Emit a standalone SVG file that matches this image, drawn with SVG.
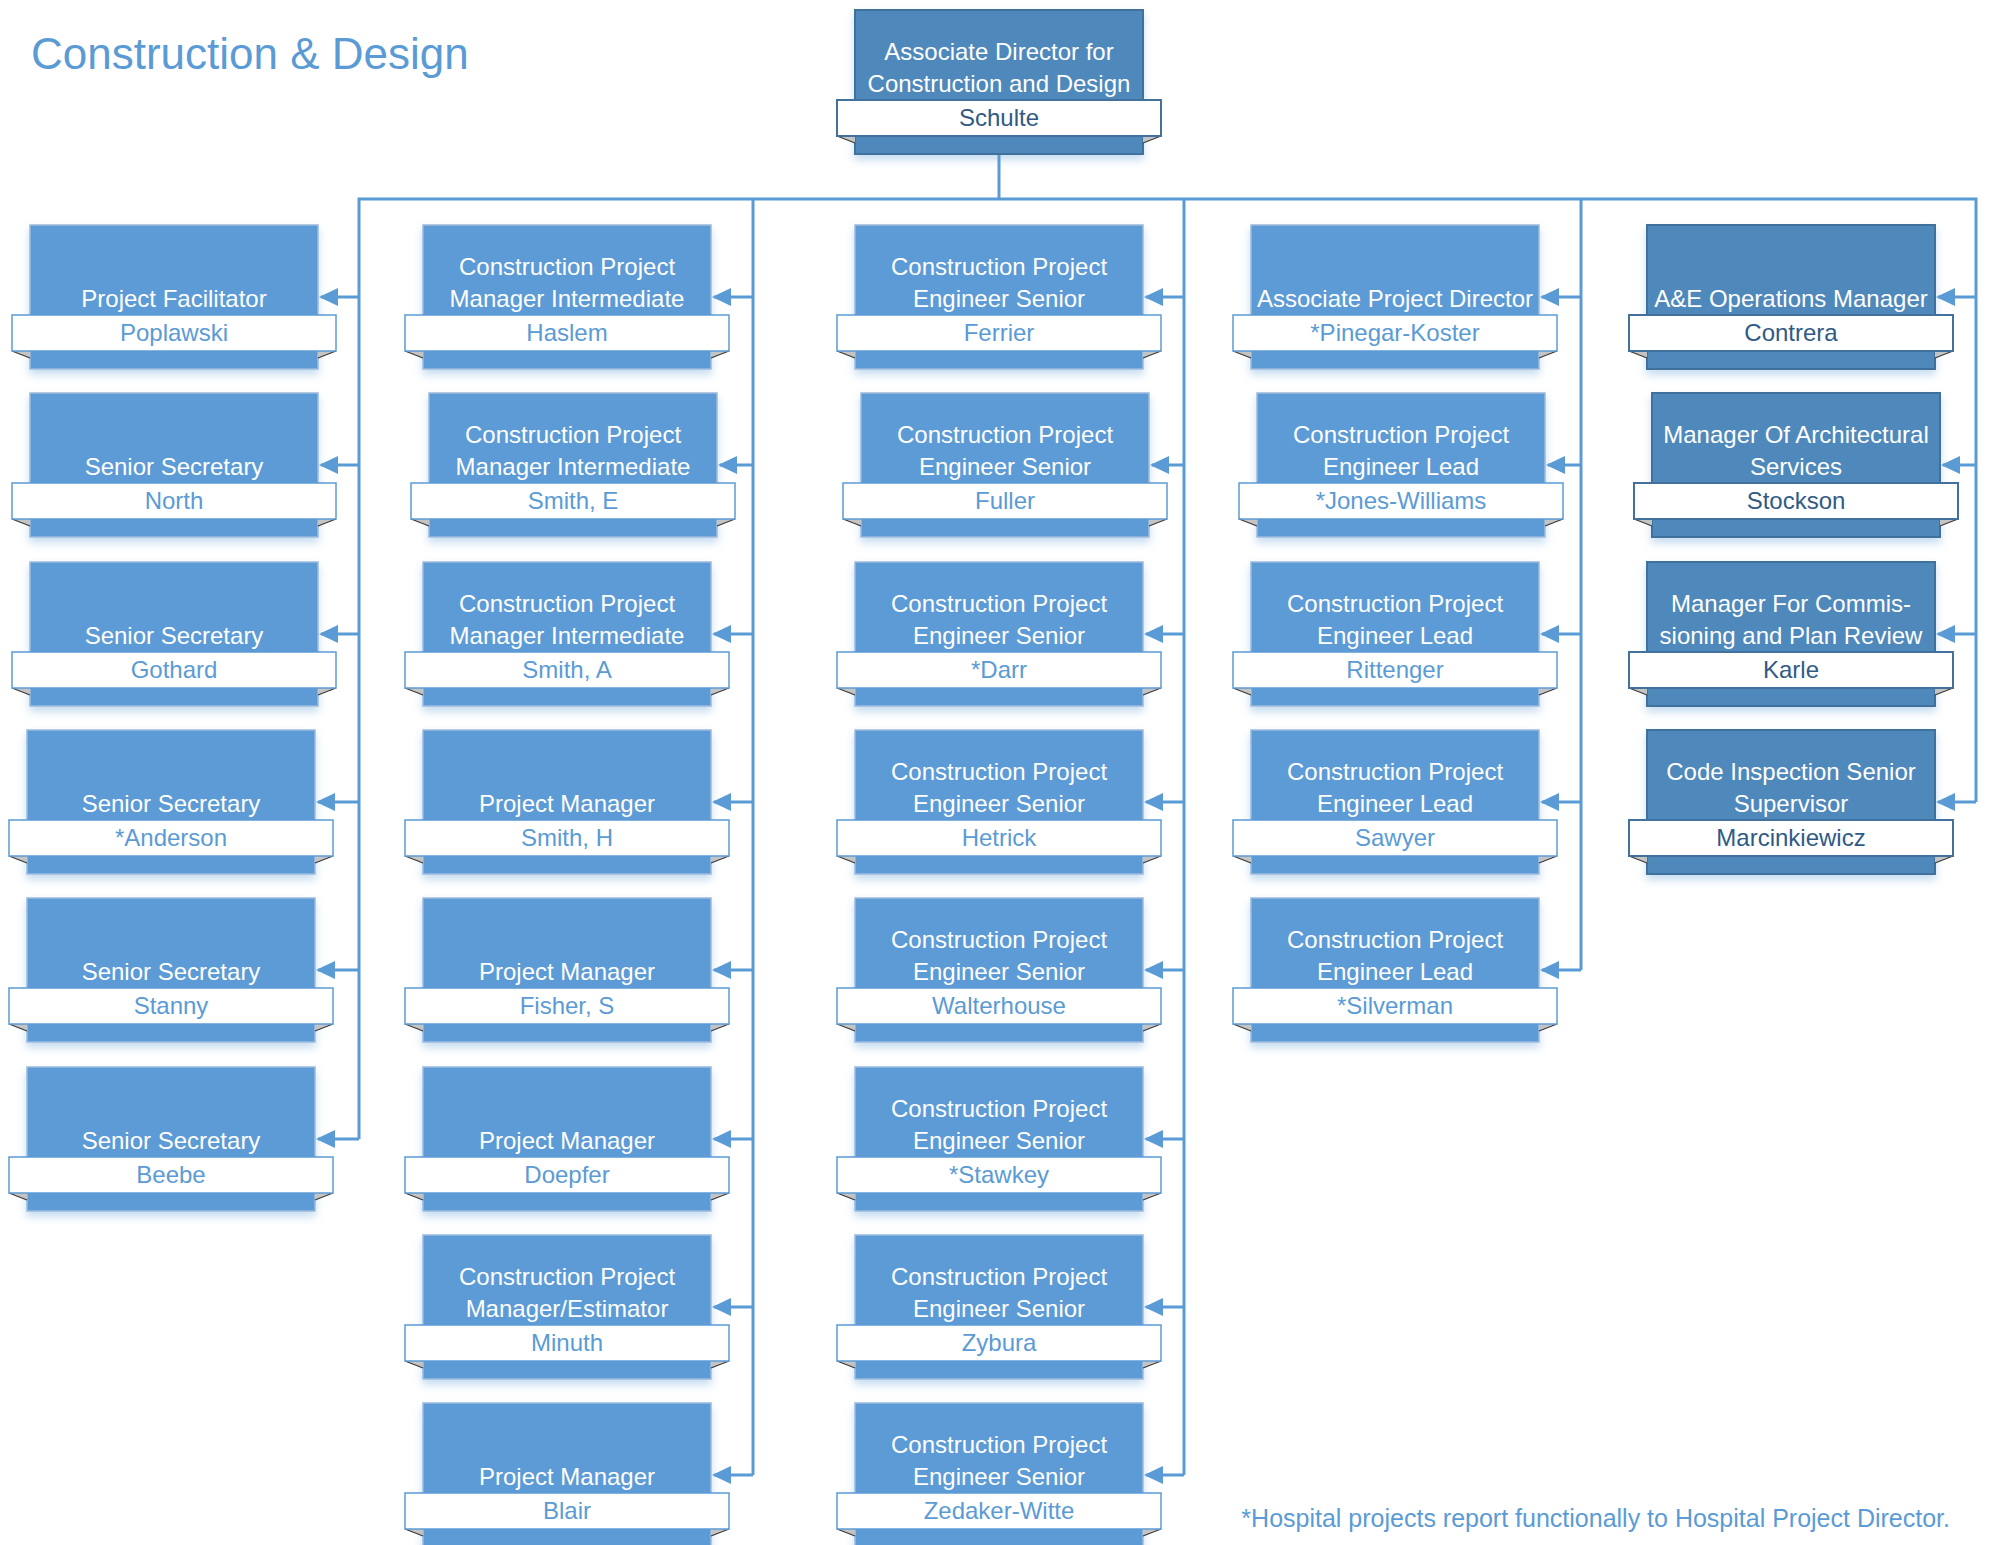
<svg xmlns="http://www.w3.org/2000/svg" width="1990" height="1545" viewBox="0 0 1990 1545">
<defs>
<style>
.box{fill:#5b9bd5;stroke:#9dbbdc;stroke-width:1.5;filter:url(#sh)}
.dk .box{fill:#4f88bb;stroke:#41719c;stroke-width:2}
.strip{fill:#fff;stroke:#5b9bd5;stroke-width:1.5}
.dk .strip{stroke:#41719c;stroke-width:2}
.fold{fill:#c4c4c4}
.fl{fill:none;stroke:#3a3a3a;stroke-width:1.2}
text{font-family:"Liberation Sans",Arial,sans-serif;text-anchor:middle}
.t{fill:#fff;font-size:24px}
.nm{fill:#5b9bd5;font-size:24px}
.dk .nm{fill:#2f5a86}
.con{fill:none;stroke:#5b9bd5;stroke-width:3}
.arr{fill:none;stroke:#5b9bd5;stroke-width:3;marker-end:url(#ah)}
.title{fill:#5b9bd5;font-size:44px;text-anchor:start}
.foot{fill:#5b9bd5;font-size:25px;text-anchor:end}
</style>
<filter id="sh" x="-10%" y="-10%" width="120%" height="130%">
<feDropShadow dx="0" dy="5" stdDeviation="4" flood-color="#5b9bd5" flood-opacity="0.35"/>
</filter>
<marker id="ah" markerUnits="userSpaceOnUse" viewBox="0 -10 20 20" refX="17" refY="0" markerWidth="20" markerHeight="20" orient="auto">
<path d="M0,-9 L19,0 L0,9 Z" fill="#5b9bd5"/>
</marker>
</defs>
<rect width="1990" height="1545" fill="#fff"/>
<text class="title" x="31" y="69">Construction &amp; Design</text>

<g id="connectors">
<path class="con" d="M999,154 V199"/>
<path class="con" d="M359,1139 V199 H1976 V802"/>
<path class="con" d="M753,199 V1475"/>
<path class="con" d="M1184,199 V1475"/>
<path class="con" d="M1581,199 V970"/>
<path class="arr" d="M359,297 H321"/>
<path class="arr" d="M359,465 H321"/>
<path class="arr" d="M359,634 H321"/>
<path class="arr" d="M359,802 H318"/>
<path class="arr" d="M359,970 H318"/>
<path class="arr" d="M359,1139 H318"/>
<path class="arr" d="M753,297 H714"/>
<path class="arr" d="M753,465 H720"/>
<path class="arr" d="M753,634 H714"/>
<path class="arr" d="M753,802 H714"/>
<path class="arr" d="M753,970 H714"/>
<path class="arr" d="M753,1139 H714"/>
<path class="arr" d="M753,1307 H714"/>
<path class="arr" d="M753,1475 H714"/>
<path class="arr" d="M1184,297 H1146"/>
<path class="arr" d="M1184,465 H1152"/>
<path class="arr" d="M1184,634 H1146"/>
<path class="arr" d="M1184,802 H1146"/>
<path class="arr" d="M1184,970 H1146"/>
<path class="arr" d="M1184,1139 H1146"/>
<path class="arr" d="M1184,1307 H1146"/>
<path class="arr" d="M1184,1475 H1146"/>
<path class="arr" d="M1581,297 H1542"/>
<path class="arr" d="M1581,465 H1548"/>
<path class="arr" d="M1581,634 H1542"/>
<path class="arr" d="M1581,802 H1542"/>
<path class="arr" d="M1581,970 H1542"/>
<path class="arr" d="M1976,297 H1938"/>
<path class="arr" d="M1976,465 H1943"/>
<path class="arr" d="M1976,634 H1938"/>
<path class="arr" d="M1976,802 H1938"/>
</g>

<g id="n-schulte" class="dk" transform="translate(855,10)">
<rect class="box" width="288" height="144"/>
<path class="fold" d="M-18,126 H0 V133 Z"/><path class="fl" d="M-18,126 L0,133"/>
<path class="fold" d="M306,126 H288 V133 Z"/><path class="fl" d="M306,126 L288,133"/>
<rect class="strip" x="-18" y="90" width="324" height="36"/>
<text class="t" x="144" y="50">Associate Director for</text>
<text class="t" x="144" y="82">Construction and Design</text>
<text class="nm" x="144" y="116">Schulte</text>
</g>

<!-- Column 1 -->
<g id="n-poplawski" transform="translate(30,225)">
<rect class="box" width="288" height="144"/>
<path class="fold" d="M-18,126 H0 V133 Z"/><path class="fl" d="M-18,126 L0,133"/>
<path class="fold" d="M306,126 H288 V133 Z"/><path class="fl" d="M306,126 L288,133"/>
<rect class="strip" x="-18" y="90" width="324" height="36"/>
<text class="t" x="144" y="82">Project Facilitator</text>
<text class="nm" x="144" y="116">Poplawski</text>
</g>
<g id="n-north" transform="translate(30,393)">
<rect class="box" width="288" height="144"/>
<path class="fold" d="M-18,126 H0 V133 Z"/><path class="fl" d="M-18,126 L0,133"/>
<path class="fold" d="M306,126 H288 V133 Z"/><path class="fl" d="M306,126 L288,133"/>
<rect class="strip" x="-18" y="90" width="324" height="36"/>
<text class="t" x="144" y="82">Senior Secretary</text>
<text class="nm" x="144" y="116">North</text>
</g>
<g id="n-gothard" transform="translate(30,562)">
<rect class="box" width="288" height="144"/>
<path class="fold" d="M-18,126 H0 V133 Z"/><path class="fl" d="M-18,126 L0,133"/>
<path class="fold" d="M306,126 H288 V133 Z"/><path class="fl" d="M306,126 L288,133"/>
<rect class="strip" x="-18" y="90" width="324" height="36"/>
<text class="t" x="144" y="82">Senior Secretary</text>
<text class="nm" x="144" y="116">Gothard</text>
</g>
<g id="n-anderson" transform="translate(27,730)">
<rect class="box" width="288" height="144"/>
<path class="fold" d="M-18,126 H0 V133 Z"/><path class="fl" d="M-18,126 L0,133"/>
<path class="fold" d="M306,126 H288 V133 Z"/><path class="fl" d="M306,126 L288,133"/>
<rect class="strip" x="-18" y="90" width="324" height="36"/>
<text class="t" x="144" y="82">Senior Secretary</text>
<text class="nm" x="144" y="116">*Anderson</text>
</g>
<g id="n-stanny" transform="translate(27,898)">
<rect class="box" width="288" height="144"/>
<path class="fold" d="M-18,126 H0 V133 Z"/><path class="fl" d="M-18,126 L0,133"/>
<path class="fold" d="M306,126 H288 V133 Z"/><path class="fl" d="M306,126 L288,133"/>
<rect class="strip" x="-18" y="90" width="324" height="36"/>
<text class="t" x="144" y="82">Senior Secretary</text>
<text class="nm" x="144" y="116">Stanny</text>
</g>
<g id="n-beebe" transform="translate(27,1067)">
<rect class="box" width="288" height="144"/>
<path class="fold" d="M-18,126 H0 V133 Z"/><path class="fl" d="M-18,126 L0,133"/>
<path class="fold" d="M306,126 H288 V133 Z"/><path class="fl" d="M306,126 L288,133"/>
<rect class="strip" x="-18" y="90" width="324" height="36"/>
<text class="t" x="144" y="82">Senior Secretary</text>
<text class="nm" x="144" y="116">Beebe</text>
</g>

<!-- Column 2 -->
<g id="n-haslem" transform="translate(423,225)">
<rect class="box" width="288" height="144"/>
<path class="fold" d="M-18,126 H0 V133 Z"/><path class="fl" d="M-18,126 L0,133"/>
<path class="fold" d="M306,126 H288 V133 Z"/><path class="fl" d="M306,126 L288,133"/>
<rect class="strip" x="-18" y="90" width="324" height="36"/>
<text class="t" x="144" y="50">Construction Project</text>
<text class="t" x="144" y="82">Manager Intermediate</text>
<text class="nm" x="144" y="116">Haslem</text>
</g>
<g id="n-smith-e" transform="translate(429,393)">
<rect class="box" width="288" height="144"/>
<path class="fold" d="M-18,126 H0 V133 Z"/><path class="fl" d="M-18,126 L0,133"/>
<path class="fold" d="M306,126 H288 V133 Z"/><path class="fl" d="M306,126 L288,133"/>
<rect class="strip" x="-18" y="90" width="324" height="36"/>
<text class="t" x="144" y="50">Construction Project</text>
<text class="t" x="144" y="82">Manager Intermediate</text>
<text class="nm" x="144" y="116">Smith, E</text>
</g>
<g id="n-smith-a" transform="translate(423,562)">
<rect class="box" width="288" height="144"/>
<path class="fold" d="M-18,126 H0 V133 Z"/><path class="fl" d="M-18,126 L0,133"/>
<path class="fold" d="M306,126 H288 V133 Z"/><path class="fl" d="M306,126 L288,133"/>
<rect class="strip" x="-18" y="90" width="324" height="36"/>
<text class="t" x="144" y="50">Construction Project</text>
<text class="t" x="144" y="82">Manager Intermediate</text>
<text class="nm" x="144" y="116">Smith, A</text>
</g>
<g id="n-smith-h" transform="translate(423,730)">
<rect class="box" width="288" height="144"/>
<path class="fold" d="M-18,126 H0 V133 Z"/><path class="fl" d="M-18,126 L0,133"/>
<path class="fold" d="M306,126 H288 V133 Z"/><path class="fl" d="M306,126 L288,133"/>
<rect class="strip" x="-18" y="90" width="324" height="36"/>
<text class="t" x="144" y="82">Project Manager</text>
<text class="nm" x="144" y="116">Smith, H</text>
</g>
<g id="n-fisher" transform="translate(423,898)">
<rect class="box" width="288" height="144"/>
<path class="fold" d="M-18,126 H0 V133 Z"/><path class="fl" d="M-18,126 L0,133"/>
<path class="fold" d="M306,126 H288 V133 Z"/><path class="fl" d="M306,126 L288,133"/>
<rect class="strip" x="-18" y="90" width="324" height="36"/>
<text class="t" x="144" y="82">Project Manager</text>
<text class="nm" x="144" y="116">Fisher, S</text>
</g>
<g id="n-doepfer" transform="translate(423,1067)">
<rect class="box" width="288" height="144"/>
<path class="fold" d="M-18,126 H0 V133 Z"/><path class="fl" d="M-18,126 L0,133"/>
<path class="fold" d="M306,126 H288 V133 Z"/><path class="fl" d="M306,126 L288,133"/>
<rect class="strip" x="-18" y="90" width="324" height="36"/>
<text class="t" x="144" y="82">Project Manager</text>
<text class="nm" x="144" y="116">Doepfer</text>
</g>
<g id="n-minuth" transform="translate(423,1235)">
<rect class="box" width="288" height="144"/>
<path class="fold" d="M-18,126 H0 V133 Z"/><path class="fl" d="M-18,126 L0,133"/>
<path class="fold" d="M306,126 H288 V133 Z"/><path class="fl" d="M306,126 L288,133"/>
<rect class="strip" x="-18" y="90" width="324" height="36"/>
<text class="t" x="144" y="50">Construction Project</text>
<text class="t" x="144" y="82">Manager/Estimator</text>
<text class="nm" x="144" y="116">Minuth</text>
</g>
<g id="n-blair" transform="translate(423,1403)">
<rect class="box" width="288" height="144"/>
<path class="fold" d="M-18,126 H0 V133 Z"/><path class="fl" d="M-18,126 L0,133"/>
<path class="fold" d="M306,126 H288 V133 Z"/><path class="fl" d="M306,126 L288,133"/>
<rect class="strip" x="-18" y="90" width="324" height="36"/>
<text class="t" x="144" y="82">Project Manager</text>
<text class="nm" x="144" y="116">Blair</text>
</g>

<!-- Column 3 -->
<g id="n-ferrier" transform="translate(855,225)">
<rect class="box" width="288" height="144"/>
<path class="fold" d="M-18,126 H0 V133 Z"/><path class="fl" d="M-18,126 L0,133"/>
<path class="fold" d="M306,126 H288 V133 Z"/><path class="fl" d="M306,126 L288,133"/>
<rect class="strip" x="-18" y="90" width="324" height="36"/>
<text class="t" x="144" y="50">Construction Project</text>
<text class="t" x="144" y="82">Engineer Senior</text>
<text class="nm" x="144" y="116">Ferrier</text>
</g>
<g id="n-fuller" transform="translate(861,393)">
<rect class="box" width="288" height="144"/>
<path class="fold" d="M-18,126 H0 V133 Z"/><path class="fl" d="M-18,126 L0,133"/>
<path class="fold" d="M306,126 H288 V133 Z"/><path class="fl" d="M306,126 L288,133"/>
<rect class="strip" x="-18" y="90" width="324" height="36"/>
<text class="t" x="144" y="50">Construction Project</text>
<text class="t" x="144" y="82">Engineer Senior</text>
<text class="nm" x="144" y="116">Fuller</text>
</g>
<g id="n-darr" transform="translate(855,562)">
<rect class="box" width="288" height="144"/>
<path class="fold" d="M-18,126 H0 V133 Z"/><path class="fl" d="M-18,126 L0,133"/>
<path class="fold" d="M306,126 H288 V133 Z"/><path class="fl" d="M306,126 L288,133"/>
<rect class="strip" x="-18" y="90" width="324" height="36"/>
<text class="t" x="144" y="50">Construction Project</text>
<text class="t" x="144" y="82">Engineer Senior</text>
<text class="nm" x="144" y="116">*Darr</text>
</g>
<g id="n-hetrick" transform="translate(855,730)">
<rect class="box" width="288" height="144"/>
<path class="fold" d="M-18,126 H0 V133 Z"/><path class="fl" d="M-18,126 L0,133"/>
<path class="fold" d="M306,126 H288 V133 Z"/><path class="fl" d="M306,126 L288,133"/>
<rect class="strip" x="-18" y="90" width="324" height="36"/>
<text class="t" x="144" y="50">Construction Project</text>
<text class="t" x="144" y="82">Engineer Senior</text>
<text class="nm" x="144" y="116">Hetrick</text>
</g>
<g id="n-walterhouse" transform="translate(855,898)">
<rect class="box" width="288" height="144"/>
<path class="fold" d="M-18,126 H0 V133 Z"/><path class="fl" d="M-18,126 L0,133"/>
<path class="fold" d="M306,126 H288 V133 Z"/><path class="fl" d="M306,126 L288,133"/>
<rect class="strip" x="-18" y="90" width="324" height="36"/>
<text class="t" x="144" y="50">Construction Project</text>
<text class="t" x="144" y="82">Engineer Senior</text>
<text class="nm" x="144" y="116">Walterhouse</text>
</g>
<g id="n-stawkey" transform="translate(855,1067)">
<rect class="box" width="288" height="144"/>
<path class="fold" d="M-18,126 H0 V133 Z"/><path class="fl" d="M-18,126 L0,133"/>
<path class="fold" d="M306,126 H288 V133 Z"/><path class="fl" d="M306,126 L288,133"/>
<rect class="strip" x="-18" y="90" width="324" height="36"/>
<text class="t" x="144" y="50">Construction Project</text>
<text class="t" x="144" y="82">Engineer Senior</text>
<text class="nm" x="144" y="116">*Stawkey</text>
</g>
<g id="n-zybura" transform="translate(855,1235)">
<rect class="box" width="288" height="144"/>
<path class="fold" d="M-18,126 H0 V133 Z"/><path class="fl" d="M-18,126 L0,133"/>
<path class="fold" d="M306,126 H288 V133 Z"/><path class="fl" d="M306,126 L288,133"/>
<rect class="strip" x="-18" y="90" width="324" height="36"/>
<text class="t" x="144" y="50">Construction Project</text>
<text class="t" x="144" y="82">Engineer Senior</text>
<text class="nm" x="144" y="116">Zybura</text>
</g>
<g id="n-zedaker-witte" transform="translate(855,1403)">
<rect class="box" width="288" height="144"/>
<path class="fold" d="M-18,126 H0 V133 Z"/><path class="fl" d="M-18,126 L0,133"/>
<path class="fold" d="M306,126 H288 V133 Z"/><path class="fl" d="M306,126 L288,133"/>
<rect class="strip" x="-18" y="90" width="324" height="36"/>
<text class="t" x="144" y="50">Construction Project</text>
<text class="t" x="144" y="82">Engineer Senior</text>
<text class="nm" x="144" y="116">Zedaker-Witte</text>
</g>

<!-- Column 4 -->
<g id="n-pinegar-koster" transform="translate(1251,225)">
<rect class="box" width="288" height="144"/>
<path class="fold" d="M-18,126 H0 V133 Z"/><path class="fl" d="M-18,126 L0,133"/>
<path class="fold" d="M306,126 H288 V133 Z"/><path class="fl" d="M306,126 L288,133"/>
<rect class="strip" x="-18" y="90" width="324" height="36"/>
<text class="t" x="144" y="82">Associate Project Director</text>
<text class="nm" x="144" y="116">*Pinegar-Koster</text>
</g>
<g id="n-jones-williams" transform="translate(1257,393)">
<rect class="box" width="288" height="144"/>
<path class="fold" d="M-18,126 H0 V133 Z"/><path class="fl" d="M-18,126 L0,133"/>
<path class="fold" d="M306,126 H288 V133 Z"/><path class="fl" d="M306,126 L288,133"/>
<rect class="strip" x="-18" y="90" width="324" height="36"/>
<text class="t" x="144" y="50">Construction Project</text>
<text class="t" x="144" y="82">Engineer Lead</text>
<text class="nm" x="144" y="116">*Jones-Williams</text>
</g>
<g id="n-rittenger" transform="translate(1251,562)">
<rect class="box" width="288" height="144"/>
<path class="fold" d="M-18,126 H0 V133 Z"/><path class="fl" d="M-18,126 L0,133"/>
<path class="fold" d="M306,126 H288 V133 Z"/><path class="fl" d="M306,126 L288,133"/>
<rect class="strip" x="-18" y="90" width="324" height="36"/>
<text class="t" x="144" y="50">Construction Project</text>
<text class="t" x="144" y="82">Engineer Lead</text>
<text class="nm" x="144" y="116">Rittenger</text>
</g>
<g id="n-sawyer" transform="translate(1251,730)">
<rect class="box" width="288" height="144"/>
<path class="fold" d="M-18,126 H0 V133 Z"/><path class="fl" d="M-18,126 L0,133"/>
<path class="fold" d="M306,126 H288 V133 Z"/><path class="fl" d="M306,126 L288,133"/>
<rect class="strip" x="-18" y="90" width="324" height="36"/>
<text class="t" x="144" y="50">Construction Project</text>
<text class="t" x="144" y="82">Engineer Lead</text>
<text class="nm" x="144" y="116">Sawyer</text>
</g>
<g id="n-silverman" transform="translate(1251,898)">
<rect class="box" width="288" height="144"/>
<path class="fold" d="M-18,126 H0 V133 Z"/><path class="fl" d="M-18,126 L0,133"/>
<path class="fold" d="M306,126 H288 V133 Z"/><path class="fl" d="M306,126 L288,133"/>
<rect class="strip" x="-18" y="90" width="324" height="36"/>
<text class="t" x="144" y="50">Construction Project</text>
<text class="t" x="144" y="82">Engineer Lead</text>
<text class="nm" x="144" y="116">*Silverman</text>
</g>

<!-- Column 5 -->
<g id="n-contrera" class="dk" transform="translate(1647,225)">
<rect class="box" width="288" height="144"/>
<path class="fold" d="M-18,126 H0 V133 Z"/><path class="fl" d="M-18,126 L0,133"/>
<path class="fold" d="M306,126 H288 V133 Z"/><path class="fl" d="M306,126 L288,133"/>
<rect class="strip" x="-18" y="90" width="324" height="36"/>
<text class="t" x="144" y="82">A&amp;E Operations Manager</text>
<text class="nm" x="144" y="116">Contrera</text>
</g>
<g id="n-stockson" class="dk" transform="translate(1652,393)">
<rect class="box" width="288" height="144"/>
<path class="fold" d="M-18,126 H0 V133 Z"/><path class="fl" d="M-18,126 L0,133"/>
<path class="fold" d="M306,126 H288 V133 Z"/><path class="fl" d="M306,126 L288,133"/>
<rect class="strip" x="-18" y="90" width="324" height="36"/>
<text class="t" x="144" y="50">Manager Of Architectural</text>
<text class="t" x="144" y="82">Services</text>
<text class="nm" x="144" y="116">Stockson</text>
</g>
<g id="n-karle" class="dk" transform="translate(1647,562)">
<rect class="box" width="288" height="144"/>
<path class="fold" d="M-18,126 H0 V133 Z"/><path class="fl" d="M-18,126 L0,133"/>
<path class="fold" d="M306,126 H288 V133 Z"/><path class="fl" d="M306,126 L288,133"/>
<rect class="strip" x="-18" y="90" width="324" height="36"/>
<text class="t" x="144" y="50">Manager For Commis-</text>
<text class="t" x="144" y="82">sioning and Plan Review</text>
<text class="nm" x="144" y="116">Karle</text>
</g>
<g id="n-marcinkiewicz" class="dk" transform="translate(1647,730)">
<rect class="box" width="288" height="144"/>
<path class="fold" d="M-18,126 H0 V133 Z"/><path class="fl" d="M-18,126 L0,133"/>
<path class="fold" d="M306,126 H288 V133 Z"/><path class="fl" d="M306,126 L288,133"/>
<rect class="strip" x="-18" y="90" width="324" height="36"/>
<text class="t" x="144" y="50">Code Inspection Senior</text>
<text class="t" x="144" y="82">Supervisor</text>
<text class="nm" x="144" y="116">Marcinkiewicz</text>
</g>

<text class="foot" x="1950" y="1527">*Hospital projects report functionally to Hospital Project Director.</text>
</svg>
